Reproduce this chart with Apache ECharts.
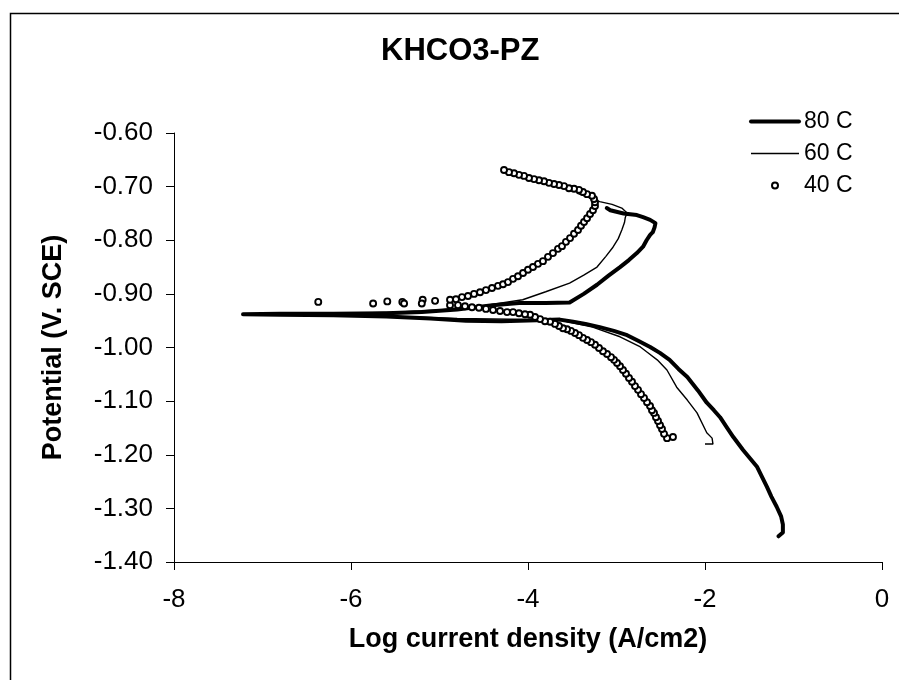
<!DOCTYPE html>
<html>
<head>
<meta charset="utf-8">
<script src="https://cdn.jsdelivr.net/npm/echarts@6/dist/echarts.min.js"></script>
<style>
html,body{margin:0;padding:0;background:#fff;}
#chart{width:899px;height:680px;}
</style>
</head>
<body>
<div id="chart"></div>
<script>
const titleText = 'KHCO3-PZ';
const xName = 'Log current density (A/cm2)';
const yName = 'Potential (V. SCE)';
const seriesNames = ['80 C', '60 C', '40 C'];
const xTicks = [-8, -6, -4, -2, 0];
const yTicks = [-1.40, -1.30, -1.20, -1.10, -1.00, -0.90, -0.80, -0.70, -0.60];

// 80 C : cathodic branch -> Ecorr -> anodic branch
const x80 = [-1.17,-1.12,-1.12,-1.14,-1.19,-1.25,-1.30,-1.36,-1.41,-1.49,-1.57,-1.68,-1.75,-1.83,-1.90,-1.98,-2.08,-2.20,-2.30,-2.40,-2.51,-2.62,-2.75,-2.88,-3.03,-3.19,-3.35,-3.49,-3.64,-3.90,-4.30,-4.70,-5.10,-5.60,-6.20,-6.80,-7.22,
  -6.80,-6.20,-5.60,-5.20,-4.80,-4.40,-4.10,-3.80,-3.53,-3.37,-3.22,-3.09,-2.96,-2.86,-2.77,-2.70,-2.66,-2.62,-2.59,-2.57,-2.56,-2.62,-2.70,-2.77,-2.92,-3.07,-3.11];
const y80 = [-1.352,-1.345,-1.330,-1.315,-1.297,-1.278,-1.260,-1.240,-1.223,-1.207,-1.191,-1.167,-1.150,-1.130,-1.117,-1.103,-1.080,-1.055,-1.040,-1.023,-1.010,-0.999,-0.988,-0.977,-0.969,-0.962,-0.956,-0.952,-0.948,-0.949,-0.951,-0.950,-0.946,-0.942,-0.940,-0.939,-0.938,
  -0.937,-0.937,-0.936,-0.934,-0.929,-0.921,-0.917,-0.917,-0.916,-0.900,-0.883,-0.866,-0.850,-0.837,-0.824,-0.812,-0.800,-0.790,-0.785,-0.776,-0.768,-0.762,-0.757,-0.753,-0.750,-0.744,-0.740];

// 60 C
const x60 = [-2.00,-1.91,-1.92,-1.98,-2.09,-2.20,-2.32,-2.43,-2.54,-2.66,-2.73,-2.96,-3.27,-3.64,-4.20,-4.80,-5.50,-6.30,-7.00,
  -6.30,-5.50,-5.00,-4.50,-4.06,-3.80,-3.53,-3.37,-3.22,-3.12,-3.04,-2.98,-2.94,-2.91,-2.90,-2.88,-2.94,-3.05,-3.19,-3.33,-3.45];
const y60 = [-1.180,-1.180,-1.169,-1.159,-1.122,-1.098,-1.074,-1.042,-1.023,-1.008,-0.999,-0.980,-0.962,-0.949,-0.947,-0.946,-0.942,-0.940,-0.938,
  -0.937,-0.934,-0.930,-0.922,-0.911,-0.896,-0.880,-0.865,-0.850,-0.830,-0.813,-0.797,-0.781,-0.767,-0.757,-0.749,-0.740,-0.733,-0.728,-0.719,-0.712];

// 40 C (markers): cathodic branch, points near Ecorr, anodic branch
const x40 = [-2.362,-2.429,-2.463,-2.486,-2.508,-2.531,-2.554,-2.576,-2.599,-2.621,-2.655,-2.689,-2.723,-2.757,-2.791,-2.825,-2.859,-2.893,-2.927,-2.960,
  -2.994,-3.028,-3.062,-3.107,-3.153,-3.198,-3.243,-3.288,-3.333,-3.379,-3.424,-3.469,-3.514,-3.559,-3.605,-3.650,-3.695,-3.751,-3.808,-3.864,
  -3.921,-3.977,-4.034,-4.102,-4.169,-4.237,-4.316,-4.395,-4.475,-4.554,-4.633,-4.712,-4.791,-4.881,
  -5.05,-5.19,-5.20,-5.42,-5.40,-5.59,-5.75,-6.37,
  -4.881,-4.814,-4.746,-4.678,-4.610,-4.542,-4.475,-4.407,-4.339,-4.282,-4.226,-4.169,-4.113,-4.056,-4.000,-3.944,-3.887,-3.831,-3.774,-3.718,
  -3.661,-3.616,-3.571,-3.525,-3.480,-3.435,-3.401,-3.367,-3.333,-3.299,-3.266,-3.243,-3.243,-3.254,-3.277,-3.333,-3.379,-3.424,-3.480,-3.537,
  -3.593,-3.650,-3.706,-3.763,-3.819,-3.876,-3.932,-3.989,-4.045,-4.102,-4.158,-4.215,-4.271];
const y40 = [-1.167,-1.169,-1.161,-1.152,-1.145,-1.137,-1.130,-1.122,-1.117,-1.109,-1.102,-1.094,-1.087,-1.079,-1.072,-1.064,-1.057,-1.049,-1.042,-1.035,
  -1.029,-1.023,-1.018,-1.012,-1.007,-1.001,-0.995,-0.990,-0.986,-0.982,-0.977,-0.973,-0.969,-0.966,-0.964,-0.960,-0.956,-0.952,-0.951,-0.947,
  -0.943,-0.939,-0.938,-0.936,-0.934,-0.934,-0.932,-0.930,-0.928,-0.926,-0.925,-0.923,-0.921,-0.921,
  -0.913,-0.911,-0.918,-0.915,-0.918,-0.914,-0.918,-0.915,
  -0.911,-0.910,-0.906,-0.904,-0.900,-0.897,-0.893,-0.889,-0.885,-0.882,-0.878,-0.872,-0.867,-0.861,-0.855,-0.850,-0.844,-0.839,-0.831,-0.824,
  -0.816,-0.811,-0.803,-0.796,-0.788,-0.781,-0.773,-0.766,-0.759,-0.751,-0.744,-0.736,-0.729,-0.723,-0.717,-0.714,-0.710,-0.706,-0.704,-0.703,
  -0.699,-0.697,-0.695,-0.693,-0.690,-0.688,-0.686,-0.684,-0.680,-0.678,-0.675,-0.673,-0.669];

const zip = (xs, ys) => xs.map((v, i) => [v, ys[i]]);
const FONT = '"Liberation Sans", Arial, sans-serif';

const chart = echarts.init(document.getElementById('chart'));
chart.setOption({
  animation: false,
  backgroundColor: '#ffffff',
  graphic: [{
    type: 'rect', left: 8, top: 11, silent: true,
    shape: { width: 1200, height: 1200 },
    style: { fill: 'none', stroke: '#000', lineWidth: 1.5 }
  }],
  title: {
    text: titleText, left: 381, top: 36, padding: 0,
    textStyle: { fontFamily: FONT, fontWeight: 'bold', fontSize: 31, color: '#000' }
  },
  legend: {
    orient: 'vertical', left: 749, top: 110, padding: 0, itemWidth: 48, itemHeight: 6, itemGap: 9,
    data: [
      { name: seriesNames[0], itemStyle: { opacity: 0 } },
      { name: seriesNames[1], itemStyle: { opacity: 0 } },
      { name: seriesNames[2] }
    ],
    textStyle: { fontFamily: FONT, fontSize: 23, color: '#000' },
    lineStyle: { width: 'inherit' }
  },
  grid: { left: 174, right: 17, top: 133, bottom: 118 },
  xAxis: {
    type: 'value', min: xTicks[0], max: xTicks[xTicks.length - 1], interval: 2,
    name: xName, nameLocation: 'middle', nameGap: 64,
    nameTextStyle: { fontFamily: FONT, fontWeight: 'bold', fontSize: 27, color: '#000' },
    axisLine: { onZero: false, lineStyle: { color: '#000', width: 1 } },
    axisTick: { show: true, inside: false, length: 8, lineStyle: { color: '#000' } },
    axisLabel: { margin: 25, fontFamily: FONT, fontSize: 26, color: '#000' },
    splitLine: { show: false }
  },
  yAxis: {
    type: 'value', min: yTicks[0], max: yTicks[yTicks.length - 1], interval: 0.1,
    name: yName, nameLocation: 'middle', nameGap: 107, nameRotate: 90,
    nameTextStyle: { fontFamily: FONT, fontWeight: 'bold', fontSize: 27, color: '#000' },
    axisLine: { onZero: false, lineStyle: { color: '#000', width: 1 } },
    axisTick: { show: true, inside: false, length: 8, lineStyle: { color: '#000' } },
    axisLabel: { margin: 21, fontFamily: FONT, fontSize: 26, color: '#000', formatter: v => v.toFixed(2) },
    splitLine: { show: false }
  },
  series: [
    { name: seriesNames[0], type: 'line', data: zip(x80, y80), symbol: 'none',
      lineStyle: { color: '#000', width: 4, cap: 'round', join: 'round' }, itemStyle: { color: '#000' }, z: 3 },
    { name: seriesNames[1], type: 'line', data: zip(x60, y60), symbol: 'none',
      lineStyle: { color: '#000', width: 1.4 }, itemStyle: { color: '#000' }, z: 2 },
    { name: seriesNames[2], type: 'scatter', data: zip(x40, y40), symbol: 'circle', symbolSize: 6,
      itemStyle: { color: '#fff', borderColor: '#000', borderWidth: 1.9, opacity: 1 }, z: 4 }
  ]
});
</script>
</body>
</html>
